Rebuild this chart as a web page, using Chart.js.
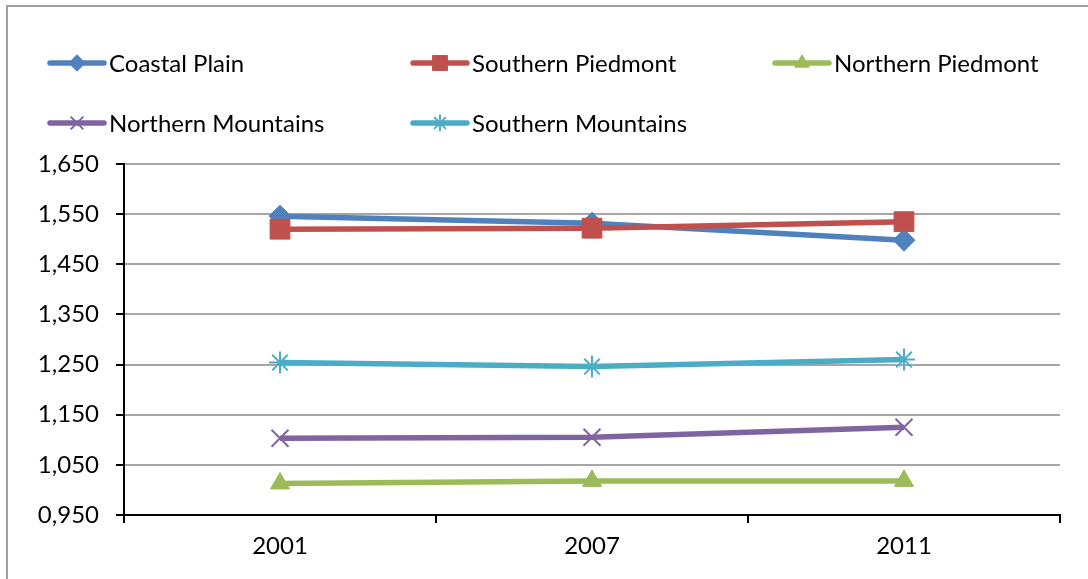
<!DOCTYPE html>
<html>
<head>
<meta charset="utf-8">
<script src="https://cdn.jsdelivr.net/npm/chart.js@4/dist/chart.umd.min.js"></script>
<style>
  html, body { margin: 0; padding: 0; background: #fff; }
  #wrap { position: relative; width: 1088px; height: 579px; }
</style>
</head>
<body>
<div id="wrap"><canvas id="c" width="1088" height="579"></canvas></div>
<script>
const years = ['2001', '2007', '2011'];
const coastalPlain = [1.546, 1.532, 1.498];
const southernPiedmont = [1.520, 1.522, 1.535];
const northernPiedmont = [1.013, 1.018, 1.018];
const northernMountains = [1.103, 1.105, 1.125];
const southernMountains = [1.254, 1.246, 1.260];
const yTickValues = [0.95, 1.05, 1.15, 1.25, 1.35, 1.45, 1.55, 1.65];
const seriesNames = ['Coastal Plain', 'Southern Piedmont', 'Northern Piedmont', 'Northern Mountains', 'Southern Mountains'];

const FONT = 'Lato, "Open Sans", sans-serif';

function mk(label, data, color, style, radius, order) {
  return {
    label, data,
    borderColor: color, backgroundColor: color,
    borderWidth: 5.5,
    pointStyle: style, pointRadius: radius, pointHoverRadius: radius,
    pointBorderColor: color, pointBackgroundColor: color,
    pointBorderWidth: (style === 'crossRot' || style === 'star') ? 2 : 1,
    tension: 0, fill: false, order
  };
}

const datasets = [
  mk(seriesNames[0], coastalPlain, '#4F81BD', 'rectRot', 11, 5),
  mk(seriesNames[1], southernPiedmont, '#C0504D', 'rect', 14, 4),
  mk(seriesNames[2], northernPiedmont, '#9BBB59', 'triangle', 11, 3),
  mk(seriesNames[3], northernMountains, '#8064A2', 'crossRot', 12, 2),
  mk(seriesNames[4], southernMountains, '#4BACC6', 'star', 11, 1)
];

const framePlugin = {
  id: 'frame',
  beforeDraw(chart) {
    const ctx = chart.ctx;
    ctx.save();
    ctx.strokeStyle = '#A0A0A0';
    ctx.lineWidth = 2;
    ctx.beginPath();
    ctx.moveTo(7, 600);
    ctx.lineTo(7, 6);
    ctx.lineTo(1100, 6);
    ctx.stroke();
    ctx.restore();
  }
};

const legendPlugin = {
  id: 'gridLegend',
  afterDraw(chart) {
    const ctx = chart.ctx;
    const colX = [50, 413, 775];
    const rowY = [63, 123];
    ctx.save();
    chart.data.datasets.forEach((ds, i) => {
      const x = colX[i % 3];
      const y = rowY[Math.floor(i / 3)];
      ctx.strokeStyle = ds.borderColor;
      ctx.lineWidth = 5.5;
      ctx.lineCap = 'round';
      ctx.beginPath();
      ctx.moveTo(x, y);
      ctx.lineTo(x + 54, y);
      ctx.stroke();
      ctx.lineCap = 'butt';
      const opts = {
        pointStyle: ds.pointStyle,
        radius: ds.pointRadius * 0.75,
        rotation: 0,
        borderWidth: ds.pointBorderWidth
      };
      ctx.fillStyle = ds.pointBackgroundColor;
      ctx.strokeStyle = ds.pointBorderColor;
      ctx.lineWidth = ds.pointBorderWidth;
      if (Chart.helpers && Chart.helpers.drawPoint) {
        Chart.helpers.drawPoint(ctx, opts, x + 27, y);
      }
      ctx.fillStyle = '#000';
      ctx.font = '24px ' + FONT;
      ctx.textBaseline = 'middle';
      ctx.textAlign = 'left';
      ctx.fillText(ds.label, x + 59, y + 1);
    });
    ctx.restore();
  }
};

new Chart(document.getElementById('c'), {
  type: 'line',
  data: { labels: years, datasets },
  options: {
    responsive: false,
    animation: false,
    events: [],
    layout: { padding: { top: 164, right: 28, bottom: 0, left: 0 } },
    plugins: { legend: { display: false }, tooltip: { enabled: false } },
    scales: {
      x: {
        offset: true,
        grid: { display: true, drawOnChartArea: false, drawTicks: true, tickLength: 8, offset: true, color: '#000', tickColor: '#000', lineWidth: 2 },
        border: { display: true, color: '#000', width: 2 },
        ticks: { color: '#000', font: { family: FONT, size: 24 }, padding: 9 },
        afterFit(s) { s.height = 64; }
      },
      y: {
        min: 0.95, max: 1.65,
        afterBuildTicks(s) { s.ticks = yTickValues.map(v => ({ value: v })); },
        grid: { color: '#A6A6A6', lineWidth: 2, drawTicks: true, tickLength: 8, tickColor: '#000' },
        border: { display: true, color: '#000', width: 2 },
        ticks: {
          color: '#000', font: { family: FONT, size: 24 }, padding: 17,
          callback: (v) => Number(v).toFixed(3).replace('.', ',')
        },
        afterFit(s) { s.width = 124; }
      }
    }
  },
  plugins: [framePlugin, legendPlugin]
});
</script>
</body>
</html>
